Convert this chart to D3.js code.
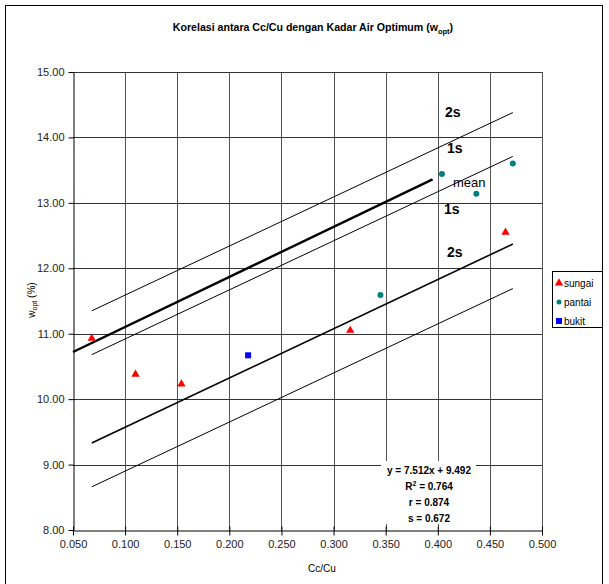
<!DOCTYPE html>
<html>
<head>
<meta charset="utf-8">
<script src="https://cdn.jsdelivr.net/npm/d3@7"></script>
<style>
  body { margin: 0; background: #fff; }
  svg { display: block; font-family: "Liberation Sans", Arial, sans-serif; }
</style>
</head>
<body>
<div id="chart"></div>
<script>
// data
const sungaiX = [0.068, 0.110, 0.154, 0.316, 0.465];
const sungaiY = [10.93, 10.38, 10.23, 11.05, 12.55];
const pantaiX = [0.345, 0.404, 0.437, 0.472];
const pantaiY = [11.59, 13.44, 13.14, 13.60];
const bukitX = [0.218];
const bukitY = [10.67];

const xTicks = [0.05, 0.1, 0.15, 0.2, 0.25, 0.3, 0.35, 0.4, 0.45, 0.5];
const yTicks = [8, 9, 10, 11, 12, 13, 14, 15];

// band lines (+2s, +1s, -1s, -2s) and the mean line, endpoints [x0, y0, x1, y1]
const bandNames = ["+2s", "+1s", "-1s", "-2s"];
const bandLines = [
  [0.068, 11.35, 0.472, 14.38],
  [0.068, 10.68, 0.472, 13.71],
  [0.068, 9.33, 0.472, 12.37],
  [0.068, 8.66, 0.472, 11.69]
];
const meanLine = [0.05, 10.72, 0.395, 13.36];

const legendNames = ["sungai", "pantai", "bukit"];
const statsText = ["y = 7.512x + 9.492", "R2 = 0.764", "r = 0.874", "s = 0.672"];

const width = 609, height = 584;
const margin = {top: 72, right: 67, bottom: 54, left: 73};

const x = d3.scaleLinear().domain([0.05, 0.5]).range([margin.left, width - margin.right]);
const y = d3.scaleLinear().domain([8, 15]).range([height - margin.bottom, margin.top]);

const svg = d3.select("#chart").append("svg")
    .attr("width", width)
    .attr("height", height);

// outer frame
svg.append("rect")
    .attr("x", 5.5).attr("y", 5.5)
    .attr("width", 597).attr("height", 600)
    .attr("fill", "none").attr("stroke", "#000").attr("stroke-width", 1);

// grid
svg.append("g").selectAll("line")
  .data(xTicks.slice(1))
  .join("line")
    .attr("x1", d => Math.round(x(d)) + 0.5).attr("x2", d => Math.round(x(d)) + 0.5)
    .attr("y1", y(15)).attr("y2", y(8))
    .attr("stroke", "#555");

svg.append("g").selectAll("line")
  .data(yTicks.slice(1))
  .join("line")
    .attr("x1", x(0.05)).attr("x2", x(0.5))
    .attr("y1", d => Math.round(y(d)) + 0.5).attr("y2", d => Math.round(y(d)) + 0.5)
    .attr("stroke", "#333");

// axes
const yAxis = d3.axisLeft(y).tickValues(yTicks).tickFormat(d3.format(".2f")).tickSizeInner(5).tickSizeOuter(0).tickPadding(4);
const xAxis = d3.axisBottom(x).tickValues(xTicks).tickFormat(d3.format(".3f")).tickSizeInner(5).tickSizeOuter(0).tickPadding(5);

svg.append("g")
    .attr("transform", `translate(${margin.left + 0.5},0)`)
    .call(yAxis)
    .call(g => g.selectAll("text").attr("font-size", 11).attr("fill", "#222").attr("font-family", null))
    .call(g => g.selectAll("line,path").attr("stroke", "#000"));

svg.append("g")
    .attr("transform", `translate(0,${height - margin.bottom + 0.5})`)
    .call(xAxis)
    .call(g => g.selectAll("text").attr("font-size", 11).attr("fill", "#222").attr("font-family", null))
    .call(g => g.selectAll(".tick line").attr("y1", -4))
    .call(g => g.selectAll("line,path").attr("stroke", "#000"));

// band lines
svg.append("g").selectAll("line")
  .data(bandLines)
  .join("line")
    .attr("x1", d => x(d[0])).attr("y1", d => y(d[1]))
    .attr("x2", d => x(d[2])).attr("y2", d => y(d[3]))
    .attr("stroke", "#000")
    .attr("stroke-width", (d, i) => bandNames[i] === "-1s" ? 1.6 : 1);

svg.append("line")
    .attr("x1", x(meanLine[0])).attr("y1", y(meanLine[1]))
    .attr("x2", x(meanLine[2])).attr("y2", y(meanLine[3]))
    .attr("stroke", "#000").attr("stroke-width", 2.4);

// points
const tri = d3.symbol().type(d3.symbolTriangle).size(30);
svg.append("g").selectAll("path")
  .data(d3.range(sungaiX.length))
  .join("path")
    .attr("d", tri)
    .attr("transform", i => `translate(${x(sungaiX[i])},${y(sungaiY[i])})`)
    .attr("fill", "#ff0000");

svg.append("g").selectAll("circle")
  .data(d3.range(pantaiX.length))
  .join("circle")
    .attr("cx", i => x(pantaiX[i])).attr("cy", i => y(pantaiY[i]))
    .attr("r", 3)
    .attr("fill", "#008080");

svg.append("g").selectAll("rect")
  .data(d3.range(bukitX.length))
  .join("rect")
    .attr("x", i => x(bukitX[i]) - 3).attr("y", i => y(bukitY[i]) - 3)
    .attr("width", 6).attr("height", 6)
    .attr("fill", "#0000ff");

// band labels
const labels = [
  {t: "2s", px: 445, py: 117, bold: true, size: 14},
  {t: "1s", px: 447, py: 153, bold: true, size: 14},
  {t: "mean", px: 453, py: 187, bold: false, size: 13},
  {t: "1s", px: 444, py: 214, bold: true, size: 14},
  {t: "2s", px: 447, py: 257, bold: true, size: 14}
];
svg.append("g").selectAll("text")
  .data(labels)
  .join("text")
    .attr("x", d => d.px).attr("y", d => d.py)
    .attr("font-size", d => d.size)
    .attr("font-weight", d => d.bold ? "bold" : "normal")
    .text(d => d.t);

// stats box
const box = svg.append("g");
box.append("rect")
    .attr("x", 381).attr("y", 461).attr("width", 95).attr("height", 63)
    .attr("fill", "#fff");
const st = box.append("g").attr("font-size", 10).attr("font-weight", "bold").attr("text-anchor", "middle");
statsText.forEach((s, i) => {
  const t = st.append("text").attr("x", 429).attr("y", 474 + i * 16);
  if (s.startsWith("R2")) {
    t.append("tspan").text("R");
    t.append("tspan").attr("font-size", 7).attr("dy", -4).text("2");
    t.append("tspan").attr("dy", 4).text(" = 0.764");
  } else {
    t.text(s);
  }
});

// title
const title = svg.append("text")
    .attr("x", 313).attr("y", 31)
    .attr("text-anchor", "middle")
    .attr("font-size", 10.6).attr("font-weight", "bold");
title.append("tspan").text("Korelasi antara Cc/Cu dengan Kadar Air Optimum (w");
title.append("tspan").attr("font-size", 7.5).attr("dy", 3).text("opt");
title.append("tspan").attr("dy", -3).text(")");

// axis titles
svg.append("text")
    .attr("x", 322).attr("y", 572)
    .attr("text-anchor", "middle").attr("font-size", 10)
    .text("Cc/Cu");

const yt = svg.append("text")
    .attr("transform", "translate(35,300) rotate(-90)")
    .attr("text-anchor", "middle").attr("font-size", 10);
yt.append("tspan").text("w");
yt.append("tspan").attr("font-size", 7).attr("dy", 2).text("opt");
yt.append("tspan").attr("dy", -2).text(" (%)");

// legend
const lg = svg.append("g");
lg.append("rect")
    .attr("x", 552.5).attr("y", 271.5).attr("width", 50).attr("height", 56)
    .attr("fill", "#fff").attr("stroke", "#000");
legendNames.forEach((n, i) => {
  const cy = 283 + i * 19;
  if (i === 0) lg.append("path").attr("d", tri).attr("transform", `translate(559,${cy})`).attr("fill", "#ff0000");
  if (i === 1) lg.append("circle").attr("cx", 559).attr("cy", cy).attr("r", 2.5).attr("fill", "#008080");
  if (i === 2) lg.append("rect").attr("x", 556).attr("y", cy - 3).attr("width", 6).attr("height", 6).attr("fill", "#0000ff");
  lg.append("text").attr("x", 564).attr("y", cy + 4).attr("font-size", 10).text(n);
});
</script>
</body>
</html>
